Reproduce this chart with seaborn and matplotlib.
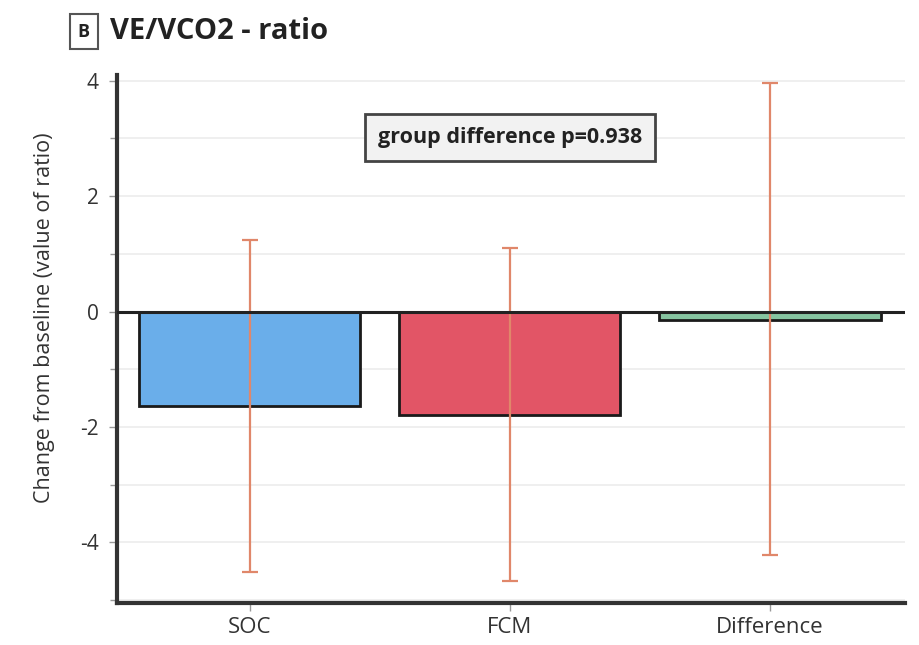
import matplotlib
matplotlib.use("Agg")
import matplotlib.pyplot as plt
import seaborn as sns
import pandas as pd
import numpy as np
from matplotlib.ticker import MultipleLocator

# Group means and confidence limits (change in VE/VCO2 ratio)
groups = ["SOC", "FCM", "Difference"]
means = [-1.64, -1.79, -0.15]
ci_low = [-4.52, -4.67, -4.21]
ci_high = [1.24, 1.10, 3.95]
bar_colors = ["#6aaeea", "#e25566", "#86c4a0"]
p_value_text = "group difference p=0.938"
title_text = "VE/VCO2 - ratio"
panel_letter = "B"
ylabel_text = "Change from baseline (value of ratio)"

sns.set_style("white")
plt.rcParams["font.family"] = ["Open Sans", "DejaVu Sans"]
plt.rcParams["axes.unicode_minus"] = False

df = pd.DataFrame({"group": groups, "mean": means})

fig = plt.figure(figsize=(9.2, 6.45), dpi=100)
ax = fig.add_axes([0.127, 0.065, 0.857, 0.819])

sns.barplot(data=df, x="group", y="mean", hue="group", palette=bar_colors,
            order=groups, hue_order=groups, width=0.85, edgecolor="#1a1a1a",
            linewidth=2, saturation=1, legend=False, errorbar=None, ax=ax, zorder=3)

x = np.arange(len(groups))
m = np.array(means)
yerr = np.vstack([m - np.array(ci_low), np.array(ci_high) - m])
ax.errorbar(x, m, yerr=yerr, fmt="none", ecolor="#e0876a", elinewidth=1.6,
            capsize=6, capthick=1.6, zorder=4)

ax.axhline(0, color="#222222", lw=2.2, zorder=5)

ax.set_xlim(-0.51, 2.52)
ax.set_ylim(-5.05, 4.1)
ax.yaxis.set_major_locator(MultipleLocator(2))
ax.yaxis.set_minor_locator(MultipleLocator(1))
ax.grid(True, which="both", axis="y", color="#ececec", lw=1.2, zorder=0)
ax.set_axisbelow(True)

for side in ["top", "right"]:
    ax.spines[side].set_visible(False)
for side in ["left", "bottom"]:
    ax.spines[side].set_linewidth(3)
    ax.spines[side].set_color("#333333")

ax.tick_params(axis="both", which="major", length=6, width=1, color="#999999",
               labelsize=15, labelcolor="#333333", direction="out", left=True,
               bottom=True, pad=7)
ax.tick_params(axis="x", labelsize=16, pad=4)
ax.tick_params(axis="y", which="minor", length=5, width=1, color="#999999", left=True)
ax.set_xlabel("")
ax.set_ylabel(ylabel_text, fontsize=15.5, color="#333333")
ax.yaxis.set_label_coords(-0.078, 0.54)

ax.text(1.0, 3.02, p_value_text, ha="center", va="center", fontsize=15.5,
        fontweight="bold", color="#222222", zorder=6,
        bbox=dict(boxstyle="square,pad=0.6", facecolor="#f2f2f2",
                  edgecolor="#444444", linewidth=2))

fig.text(0.091, 0.951, panel_letter, ha="center", va="center", fontsize=13,
         fontweight="bold", color="#222222",
         bbox=dict(boxstyle="square,pad=0.45", facecolor="white",
                   edgecolor="#555555", linewidth=1.5))
fig.text(0.12, 0.951, title_text, ha="left", va="center", fontsize=21,
         fontweight="bold", color="#222222")

fig.savefig("out.png", dpi=100)
